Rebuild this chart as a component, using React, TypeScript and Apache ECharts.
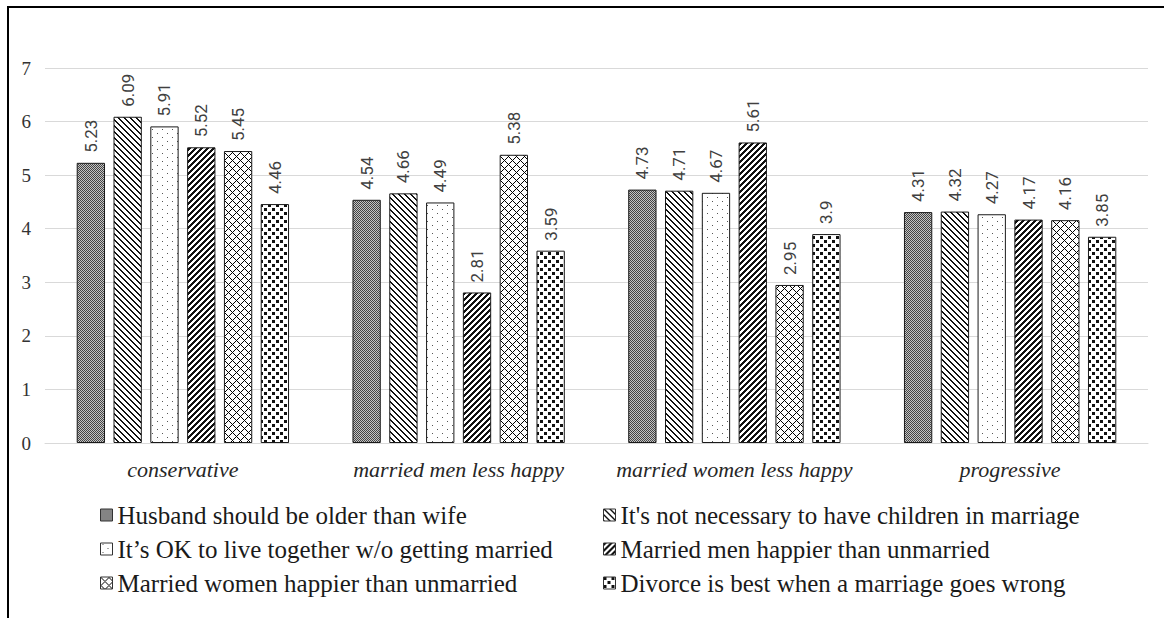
import React, { useEffect, useRef } from "react";
import * as echarts from "echarts";

const categories = [
  "conservative",
  "married men less happy",
  "married women less happy",
  "progressive",
];

const seriesNames = [
  "Husband should be older than wife",
  "It's not necessary to have children in marriage",
  "It\u2019s OK to live together w/o getting married",
  "Married men happier than unmarried",
  "Married women happier than unmarried",
  "Divorce is best when a marriage goes wrong",
];

const husbandOlder = [5.23, 4.54, 4.73, 4.31];
const notNecessaryChildren = [6.09, 4.66, 4.71, 4.32];
const okLiveTogether = [5.91, 4.49, 4.67, 4.27];
const menHappier = [5.52, 2.81, 5.61, 4.17];
const womenHappier = [5.45, 5.38, 2.95, 4.16];
const divorceBest = [4.46, 3.59, 3.9, 3.85];

const yMin = 0;
const yMax = 7;
const yInterval = 1;

const SERIF = "'Liberation Serif', 'Times New Roman', serif";

function makePattern(
  w: number,
  h: number,
  fn: (x: number, y: number) => string | null,
  bg = "#ffffff"
) {
  const c = document.createElement("canvas");
  c.width = w;
  c.height = h;
  const ctx = c.getContext("2d")!;
  ctx.fillStyle = bg;
  ctx.fillRect(0, 0, w, h);
  for (let y = 0; y < h; y++) {
    for (let x = 0; x < w; x++) {
      const col = fn(x, y);
      if (col) {
        ctx.fillStyle = col;
        ctx.fillRect(x, y, 1, 1);
      }
    }
  }
  return {
    image: c.toDataURL(),
    repeat: "repeat",
    imageWidth: w,
    imageHeight: h,
  } as any;
}

export default function App() {
  const ref = useRef<HTMLDivElement>(null);

  useEffect(() => {
    if (!ref.current) return;
    const chart = echarts.init(ref.current, null, { renderer: "svg" });

    const patterns = [
      makePattern(4, 4, (x, y) => ((x + y) % 2 === 0 ? "#444444" : null), "#c4c4c4"),
      makePattern(6, 6, (x, y) => ((x - y + 60) % 6 < 2 ? "#111111" : null)),
      makePattern(10, 8, (x, y) =>
        (x === 2 && y === 1) || (x === 7 && y === 5) ? "#555555" : null
      ),
      makePattern(6, 6, (x, y) => ((x + y) % 6 < 3 ? "#111111" : null)),
      makePattern(8, 8, (x, y) =>
        (x + y) % 8 === 0 || (x - y + 80) % 8 === 0 ? "#000000" : null
      ),
      makePattern(8, 8, (x, y) =>
        (x < 3 && y < 3) || (x >= 4 && x < 7 && y >= 4 && y < 7) ? "#111111" : null
      ),
    ];

    const seriesData = [
      husbandOlder,
      notNecessaryChildren,
      okLiveTogether,
      menHappier,
      womenHappier,
      divorceBest,
    ];

    const series = seriesData.map((data, i) => ({
      name: seriesNames[i],
      type: "bar",
      data,
      barGap: "30%",
      barCategoryGap: "23%",
      itemStyle: {
        color: patterns[i],
        borderColor: "#1a1a1a",
        borderWidth: 1,
      },
      emphasis: { disabled: true },
      label: {
        show: true,
        position: "top",
        rotate: 90,
        align: "left",
        verticalAlign: "middle",
        distance: 10,
        fontFamily: "Roboto",
        fontSize: 17,
        color: "#404040",
        formatter: (p: any) => String(p.value),
      },
    }));

    const rowCenters = [515, 549, 583];
    const colLefts = [100, 603];
    const legends = seriesNames.map((name, i) => ({
      data: [name],
      left: colLefts[i % 2],
      top: rowCenters[Math.floor(i / 2)] - 13,
      padding: 0,
      orient: "horizontal",
      icon: "rect",
      itemWidth: 12,
      itemHeight: 12,
      selectedMode: false,
      itemStyle: { borderColor: "#333333", borderWidth: 1 },
      textStyle: {
        fontFamily: SERIF,
        fontSize: 25,
        lineHeight: 26,
        color: "#1a1a1a",
      },
    }));

    chart.setOption({
      animation: false,
      backgroundColor: "#ffffff",
      grid: { left: 45, right: 16, top: 68, bottom: 175, containLabel: false },
      xAxis: {
        type: "category",
        data: categories,
        axisTick: { show: false },
        axisLine: { lineStyle: { color: "#d9d9d9", width: 1 } },
        axisLabel: {
          interval: 0,
          fontFamily: SERIF,
          fontStyle: "italic",
          fontSize: 22,
          color: "#262626",
          margin: 15,
        },
      },
      yAxis: {
        type: "value",
        min: yMin,
        max: yMax,
        interval: yInterval,
        axisLine: { show: false },
        axisTick: { show: false },
        splitLine: { lineStyle: { color: "#d9d9d9", width: 1 } },
        axisLabel: {
          fontFamily: SERIF,
          fontSize: 19,
          color: "#333333",
          margin: 14,
        },
      },
      legend: legends,
      series,
      graphic: [
        {
          type: "line",
          shape: { x1: 7, y1: 7, x2: 1164, y2: 7 },
          style: { stroke: "#000000", lineWidth: 2 },
          silent: true,
        },
        {
          type: "line",
          shape: { x1: 8, y1: 7, x2: 8, y2: 618 },
          style: { stroke: "#000000", lineWidth: 2 },
          silent: true,
        },
      ],
    });

    return () => {
      chart.dispose();
    };
  }, []);

  return (
    <div
      ref={ref}
      style={{ position: "absolute", left: 0, top: 0, width: 1164, height: 618 }}
    />
  );
}
